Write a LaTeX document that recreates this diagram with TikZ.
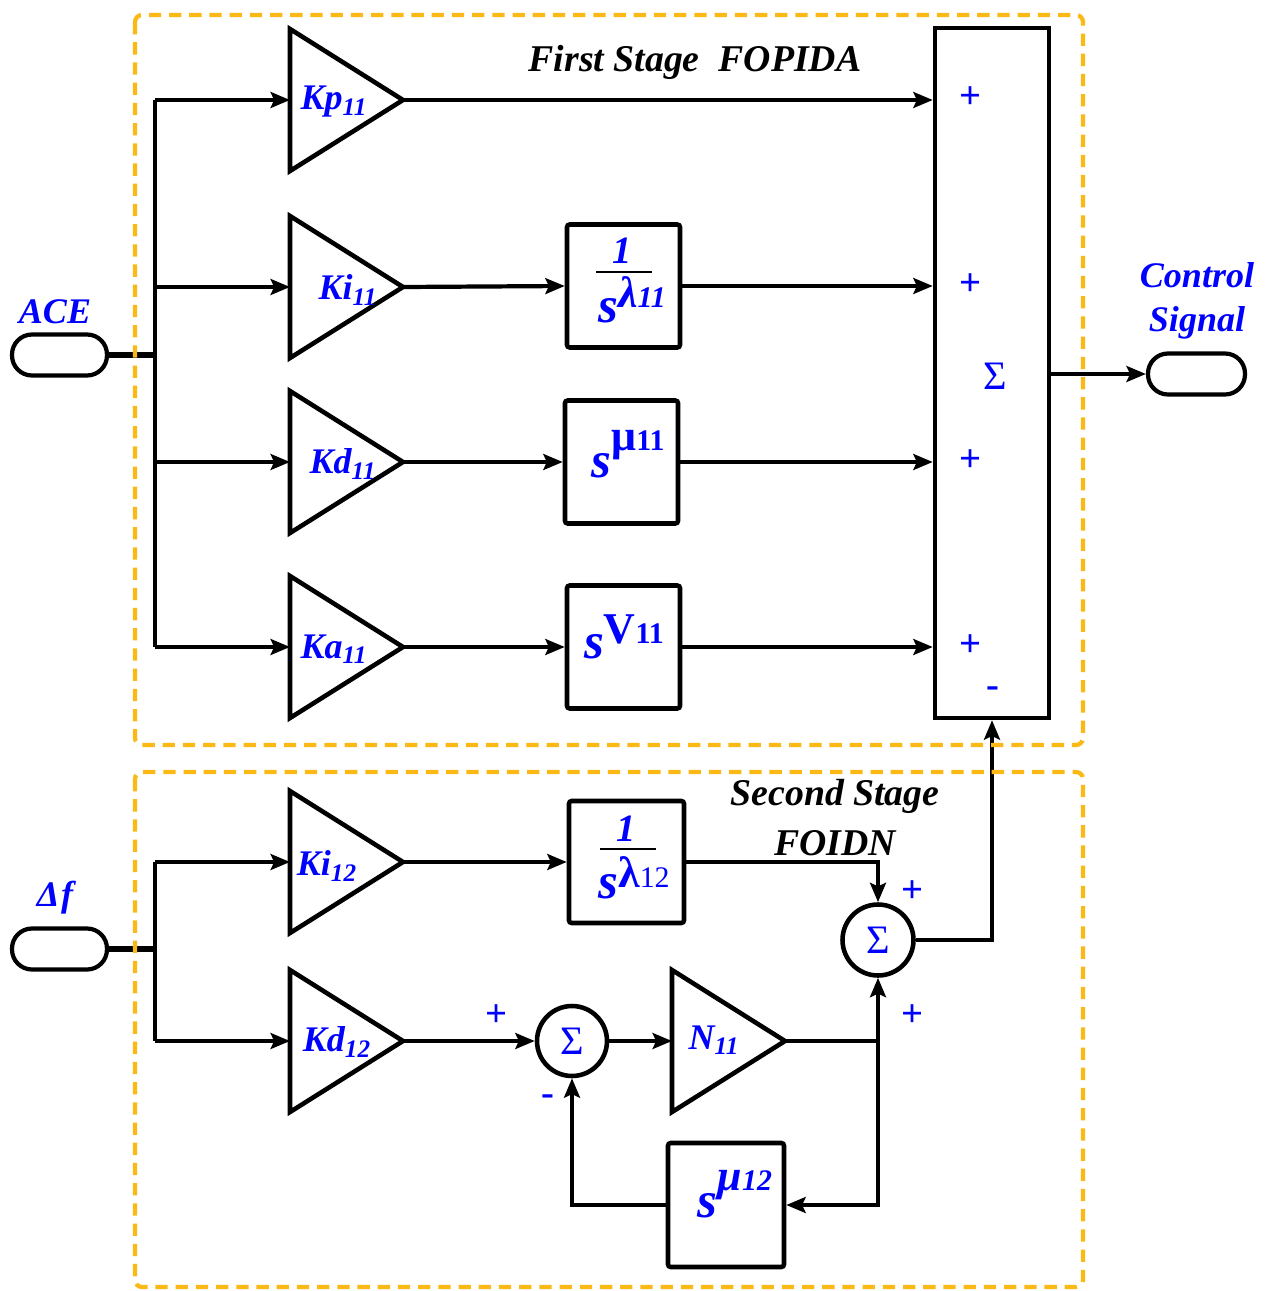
\documentclass[tikz,border=0pt]{standalone}
\usepackage{fontspec}
\setmainfont{Liberation Serif}
\usetikzlibrary{arrows.meta}
\definecolor{lblue}{RGB}{0,0,255}
\definecolor{dashorange}{RGB}{250,185,20}
\newcommand{\gaintri}[3]{%
  \draw[gain] (#2,#3-71) -- (#2+113,#3) -- (#2,#3+71) -- cycle;
  \coordinate (#1-in) at (#2,#3);
  \coordinate (#1-out) at (#2+113,#3);
}
\newcommand{\spw}[3]{{\fontsize{29}{29}\selectfont\bfseries\itshape s}\raisebox{#3}{{\fontsize{25}{26}\selectfont\bfseries #1}{\fontsize{17}{18}\selectfont #2}}}
\begin{document}
\begin{tikzpicture}[x=0.02cm,y=-0.02cm,
  wire/.style={line width=2.4pt, black},
  arr/.style={wire, -{Stealth[length=11pt,width=9pt,inset=2pt]}},
  gain/.style={line width=2.6pt, line join=miter},
  blockbox/.style={draw, line width=2.6pt, rounded corners=1.5pt, inner sep=0pt},
  stagebox/.style={draw=dashorange, line width=2.4pt, dash pattern=on 7pt off 4.5pt, rounded corners=4pt},
  lbl/.style={text=lblue, font=\fontsize{20.5}{22}\selectfont\bfseries\itshape, inner sep=0pt},
  ttl/.style={text=black, font=\fontsize{21.5}{23}\selectfont\bfseries\itshape, inner sep=0pt},
  sgn/.style={text=lblue, font=\fontsize{22}{22}\selectfont\bfseries, inner sep=0pt},
  blu/.style={text=lblue, inner sep=0pt},
  term/.style={draw, line width=2.4pt, minimum width=1.9cm, minimum height=0.82cm, rounded corners=0.4cm, inner sep=0pt},
  sumc/.style={draw, circle, line width=2.6pt, minimum size=1.42cm, inner sep=0pt, text=lblue, font=\fontsize{23}{24}\selectfont}
]
\useasboundingbox (0,0) rectangle (1269,1291);

% ---------- First stage ----------
\node[term] (ace) at (59.5,355) {};
\node[lbl] (acel) at (55,312) {ACE};
\coordinate (busA) at (155,355);
\coordinate (busAtop) at (155,100);
\coordinate (busAbot) at (155,647);

\gaintri{kp}{290}{100}
\gaintri{ki}{290}{287}
\gaintri{kd}{290}{462}
\gaintri{ka}{290}{647}
\node[lbl] (kpl) at (334,102) {Kp\textsubscript{11}};
\node[lbl] (kil) at (348,290) {Ki\textsubscript{11}};
\node[lbl] (kdl) at (343,464) {Kd\textsubscript{11}};
\node[lbl] (kal) at (334,649) {Ka\textsubscript{11}};

\node[blockbox, minimum width=2.26cm, minimum height=2.46cm] (bi) at (623.5,286) {};
\node[blockbox, minimum width=2.26cm, minimum height=2.46cm] (bd) at (621.5,462) {};
\node[blockbox, minimum width=2.26cm, minimum height=2.46cm] (ba) at (623.5,647) {};

\node[blu, font=\fontsize{22}{22}\selectfont\bfseries\itshape] (bione) at (622,251) {1};
\coordinate (bibarl) at (596,272);
\coordinate (bibarr) at (652,272);
\draw[line width=1.6pt] (bibarl) -- (bibarr);
\node[blu, anchor=base] (bis) at (632,322) {\spw{\itshape λ}{\bfseries\itshape 11}{8pt}};
\node[blu, anchor=base] (bds) at (628,477) {\spw{μ}{\bfseries 11}{15pt}};
\node[blu, anchor=base] (bas) at (624,658) {\spw{V}{\bfseries 11}{8pt}};

\node[draw, line width=2.6pt, minimum width=2.28cm, minimum height=13.8cm, inner sep=0pt] (bigsum) at (992,373) {};
\node[sgn] (p1) at (970,98) {+};
\node[sgn] (p2) at (970,285) {+};
\node[sgn] (p3) at (970,461) {+};
\node[sgn] (p4) at (970,646) {+};
\node[sgn] (m1) at (993,692) {-};
\node[blu, font=\fontsize{23}{24}\selectfont] (sig) at (995,376) {Σ};

\node[term, minimum width=1.94cm] (ctl) at (1196.5,374) {};
\node[lbl] (ctll1) at (1197,275) {Control};
\node[lbl] (ctll2) at (1197,323) {Signal};

\node[ttl] (t1) at (695,62) {First Stage\ \ FOPIDA};

\draw[line width=3.6pt] (ace.east) -- (busA);
\draw[wire] (busAtop) -- (busAbot);
\draw[arr] (busAtop) -- (kp-in);
\draw[arr] (busAtop |- ki-in) -- (ki-in);
\draw[arr] (busAtop |- kd-in) -- (kd-in);
\draw[arr] (busAbot) -- (ka-in);
\draw[arr] (kp-out) -- (bigsum.west |- kp-out);
\draw[arr] (ki-out) -- (bi.west);
\draw[arr] (bi.east) -- (bigsum.west |- bi.east);
\draw[arr] (kd-out) -- (bd.west);
\draw[arr] (bd.east) -- (bigsum.west |- bd.east);
\draw[arr] (ka-out) -- (ba.west);
\draw[arr] (ba.east) -- (bigsum.west |- ba.east);
\draw[arr] (bigsum.east |- ctl) -- (ctl.west);

% ---------- Second stage ----------
\node[term] (df) at (59.5,949) {};
\node[lbl] (dfl) at (55,898) {Δ\kern1pt f};
\coordinate (busB) at (155,949);
\coordinate (busBtop) at (155,862);
\coordinate (busBbot) at (155,1041);

\gaintri{kib}{290}{862}
\gaintri{kdb}{290}{1041}
\gaintri{nn}{672}{1041}
\node[lbl] (kibl) at (327,866) {Ki\textsubscript{12}};
\node[lbl] (kdbl) at (337,1042) {Kd\textsubscript{12}};
\node[lbl] (nnl) at (714,1040) {N\textsubscript{11}};

\node[blockbox, minimum width=2.3cm, minimum height=2.44cm] (bib) at (626.5,862) {};
\node[blu, font=\fontsize{22}{22}\selectfont\bfseries\itshape] (bibone) at (626,829) {1};
\coordinate (bbarl) at (600,849);
\coordinate (bbarr) at (656,849);
\draw[line width=1.6pt] (bbarl) -- (bbarr);
\node[blu, anchor=base] (bibs) at (634,898) {\spw{λ}{12}{6pt}};

\node[blockbox, minimum width=2.32cm, minimum height=2.48cm] (bdb) at (726,1205) {};
\node[blu, anchor=base] (bdbs) at (735,1217) {\spw{\itshape μ}{\bfseries\itshape 12}{15pt}};

\node[sumc] (sum2) at (878,940) {Σ};
\node[sumc, minimum size=1.4cm] (sum1) at (572,1041) {Σ};
\node[sgn] (q1) at (913,892) {+};
\node[sgn] (q2) at (913,1016) {+};
\node[sgn] (q3) at (497,1016) {+};
\node[sgn] (q4) at (548,1100) {-};

\node[ttl] (t2a) at (835,796) {Second Stage};
\node[ttl] (t2b) at (835,843) {FOIDN};

\coordinate (j1) at (878,1041);
\draw[line width=3.6pt] (df.east) -- (busB);
\draw[wire] (busBtop) -- (busBbot);
\draw[arr] (busBtop) -- (kib-in);
\draw[arr] (busBbot) -- (kdb-in);
\draw[arr] (kib-out) -- (bib.west);
\draw[arr] (bib.east) -- (sum2.north |- bib.east) -- (sum2.north);
\draw[arr] (kdb-out) -- (sum1.west);
\draw[arr] (sum1.east) -- (nn-in);
\draw[wire] (nn-out) -- (j1);
\draw[arr] (j1) -- (sum2.south);
\draw[arr] (j1) -- (j1 |- bdb.east) -- (bdb.east);
\draw[arr] (bdb.west) -- (sum1.south |- bdb.west) -- (sum1.south);
\draw[arr] (sum2.east) -- (bigsum.south |- sum2.east) -- (bigsum.south);

% ---------- Stage frames ----------
\draw[stagebox] (135,15) rectangle (1083,745);
\draw[stagebox] (135,772) rectangle (1083,1287);
\end{tikzpicture}
\end{document}
